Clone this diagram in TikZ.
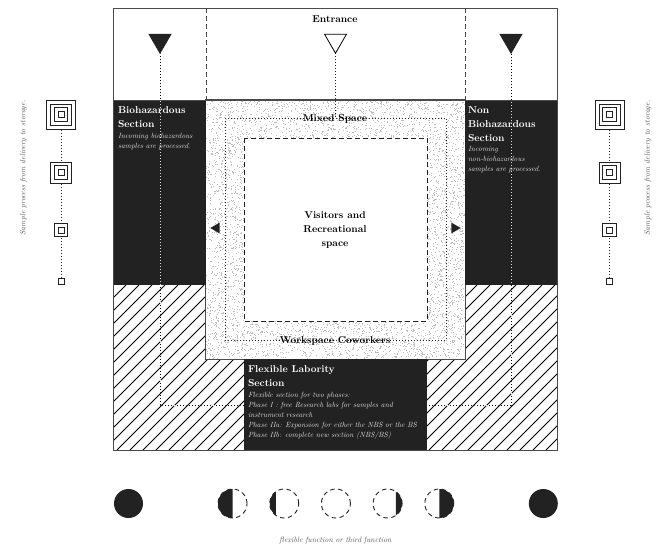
\documentclass[tikz,border=0pt]{standalone}
\usepackage{tikz}
\usepackage{xcolor}
\usetikzlibrary{arrows.meta,positioning,shapes.geometric,calc}
\definecolor{InkDark}{HTML}{222222}
\definecolor{FrameGrey}{HTML}{4A4A4A}
\definecolor{SoftText}{HTML}{E0E0E0}
\definecolor{Muted}{HTML}{555555}
\definecolor{Speck}{HTML}{BDBDBD}
\tikzset{
  sectionbox/.style={fill=InkDark, draw=none, inner sep=0pt, outer sep=0pt},
  planbox/.style={draw=FrameGrey, line width=1pt, fill=none, inner sep=0pt, outer sep=0pt},
  title/.style={font=\fontsize{10}{14}\selectfont\bfseries, text=white, align=left, inner sep=0pt, outer sep=0pt},
  note/.style={font=\fontsize{10}{13.33}\selectfont\itshape, scale=0.75, text=SoftText, align=left, inner sep=0pt, outer sep=0pt},
  label/.style={font=\fontsize{10}{14}\selectfont\bfseries, text=black, align=center, inner sep=0pt},
  sidenote/.style={font=\fontsize{10}{12}\selectfont\itshape, scale=0.77, text=Muted, inner sep=0pt},
  marker/.style={regular polygon, regular polygon sides=3, shape border rotate=180, minimum size=25.4pt, inner sep=0pt, outer sep=0pt, draw=black, line width=0.8pt},
  pointer/.style={regular polygon, regular polygon sides=3, fill=InkDark, minimum size=12.5pt, inner sep=0pt},
  sample/.style={rectangle, draw=InkDark, line width=1pt, fill=white, inner sep=0pt, outer sep=0pt},
  moon/.style={circle, minimum size=29pt, inner sep=0pt, outer sep=0pt},
  ghost/.style={moon, draw=InkDark, line width=0.9pt, dash pattern=on 4.5pt off 3.5pt},
  flow/.style={dash pattern=on 1pt off 2pt, line width=1pt, draw=white, blend mode=difference},
  chain/.style={dash pattern=on 1pt off 2pt, line width=1pt, draw=InkDark},
  zone/.style={line width=1pt, draw=FrameGrey, dash pattern=on 5pt off 3pt}
}
\begin{document}
\begin{tikzpicture}[x=1pt, y=-1pt]
    \fill[white] (0,0) rectangle (666,550);
    \useasboundingbox (0,0) rectangle (666,550);
    % hatched band
    \begin{scope}
      \clip (113,285) rectangle (557,450);
      \foreach \i in {0,13,...,630} {
        \draw[line width=0.8pt, black] (113+\i-165,450) -- (113+\i,285);
      }
    \end{scope}
    % speckled square
    \node[fill=white, minimum width=259pt, minimum height=259pt, inner sep=0pt] (mixed) at (335.5,229.5) {};
    \pgfmathsetseed{41}
    \foreach \i in {1,...,8000} {
      \fill[Speck] (206+258*rnd,100+258*rnd) rectangle +(1,1);
    }
    \draw[FrameGrey, line width=1pt] (mixed.north west) rectangle (mixed.south east);
    \node[sectionbox, minimum width=93pt, minimum height=185pt] (bio) at (159.5,192.5) {};
    \node[sectionbox, minimum width=92pt, minimum height=185pt] (nonbio) at (511,192.5) {};
    \node[planbox, fill=white, minimum width=183pt, minimum height=183pt, draw=none] (visit) at (335.5,229.5) {};
    \draw[zone, draw=InkDark] (visit.north west) rectangle (visit.south east);
    % outer frame
    \node[planbox, minimum width=444pt, minimum height=442pt] (frame) at (335,229) {};
    \draw[FrameGrey, line width=1pt] (113,100) -- (557,100);
    \coordinate (gateL) at (206,8);
    \coordinate (gateR) at (465,8);
    \draw[zone] (gateL) -- (206,100);
    \draw[zone] (gateR) -- (465,100);
    % markers
    \node[marker, fill=InkDark, draw=InkDark] (inL) at (160,40.5) {};
    \node[marker, fill=white] (inC) at (335.5,40.5) {};
    \node[marker, fill=InkDark, draw=InkDark] (inR) at (511,40.5) {};
    \coordinate (downL) at (160,405);
    \coordinate (downR) at (511,405);
    \coordinate (ringT) at (335.5,118);
    \draw[flow] (inL.corner 1) -- (downL) -- (downR) -- (inR.corner 1);
    \draw[chain] (inC.corner 1) -- (ringT);
    \draw[chain] (225,118) rectangle (446,340);
    \node[sectionbox, minimum width=183pt, minimum height=91pt] (flex) at (335.5,404.5) {};
    % side arrows
    \node[pointer, shape border rotate=90] (exitL) at (216.5,228) {};
    \node[pointer, shape border rotate=-90] (exitR) at (454.5,228) {};
    % labels
    \node[label] (entrance) at (335,19.5) {Entrance};
    \node[label] (mixedlab) at (335,119) {Mixed Space};
    \node[label] (worklab) at (335,341) {Workspace Coworkers};
    \node[label] (visitlab) at (335,230) {Visitors and\\Recreational\\space};
    \node[title, anchor=north west] (biotitle) at (118,106.5) {Biohazardous\\Section};
    \node[note, below=6pt of biotitle.south west, anchor=north west] (bionote) {Incoming biohazardous\\samples are processed.};
    \node[title, anchor=north west] (nontitle) at (468,106.5) {Non\\Biohazardous\\Section};
    \node[note, below=5pt of nontitle.south west, anchor=north west] (nonnote) {Incoming\\non-biohazardous\\samples are processed.};
    \node[title, anchor=north west] (flextitle) at (248,365.5) {Flexible Labority\\Section};
    \node[note, below=6pt of flextitle.south west, anchor=north west] (flexnote) {Flexible section for two phases:\\Phase I : free Research labs for samples and\\instrument research\\Phase IIa: Expansion for either the NBS or the BS\\Phase IIb: complete new section (NBS/BS)};
    % sample chain left
    \coordinate (chainL) at (61,114.5);
    \draw[chain] (chainL) -- (61,281);
    \node[sample, minimum size=29pt] (la) at (chainL) {};
    \node[sample, minimum size=21pt] at (la) {};
    \node[sample, minimum size=13.5pt] at (la) {};
    \node[sample, minimum size=6pt] at (la) {};
    \node[sample, minimum size=21pt] (lb) at (61,172.5) {};
    \node[sample, minimum size=13.5pt] at (lb) {};
    \node[sample, minimum size=6pt] at (lb) {};
    \node[sample, minimum size=13.5pt] (lc) at (61,230) {};
    \node[sample, minimum size=6pt] at (lc) {};
    \node[sample, minimum size=6pt] (ld) at (61,281) {};
    \node[sidenote, rotate=90] (sideL) at (23.5,168) {Sample process from delivery to storage.};
    % sample chain right
    \coordinate (chainR) at (609.5,114.5);
    \draw[chain] (chainR) -- (609.5,281);
    \node[sample, minimum size=29pt] (ra) at (chainR) {};
    \node[sample, minimum size=21pt] at (ra) {};
    \node[sample, minimum size=13.5pt] at (ra) {};
    \node[sample, minimum size=6pt] at (ra) {};
    \node[sample, minimum size=21pt] (rb) at (609.5,172.5) {};
    \node[sample, minimum size=13.5pt] at (rb) {};
    \node[sample, minimum size=6pt] at (rb) {};
    \node[sample, minimum size=13.5pt] (rc) at (609.5,230) {};
    \node[sample, minimum size=6pt] at (rc) {};
    \node[sample, minimum size=6pt] (rd) at (609.5,281) {};
    \node[sidenote, rotate=90] (sideR) at (648,168) {Sample process from delivery to storage.};
    % moon row
    \node[moon, fill=InkDark] (m1) at (128.5,503.5) {};
    \node[ghost, right=75pt of m1] (m2) {};
    \node[ghost, right=22.7pt of m2] (m3) {};
    \node[ghost, right=22.7pt of m3] (m4) {};
    \node[ghost, right=22.7pt of m4] (m5) {};
    \node[ghost, right=22.7pt of m5] (m6) {};
    \node[moon, fill=InkDark, right=75pt of m6] (m7) {};
    \fill[InkDark] ($(m2.center)+(90:14.5)$) arc (90:270:14.5) -- cycle;
    \fill[InkDark] ($(m3.center)+(125:14.5)$) arc (125:235:14.5) -- cycle;
    \fill[InkDark] ($(m5.center)+(55:14.5)$) arc (55:-55:14.5) -- cycle;
    \fill[InkDark] ($(m6.center)+(90:14.5)$) arc (90:-90:14.5) -- cycle;
    \node[sidenote] (moonlab) at (335.5,541) {flexible function or third function};
  \end{tikzpicture}
\end{document}
